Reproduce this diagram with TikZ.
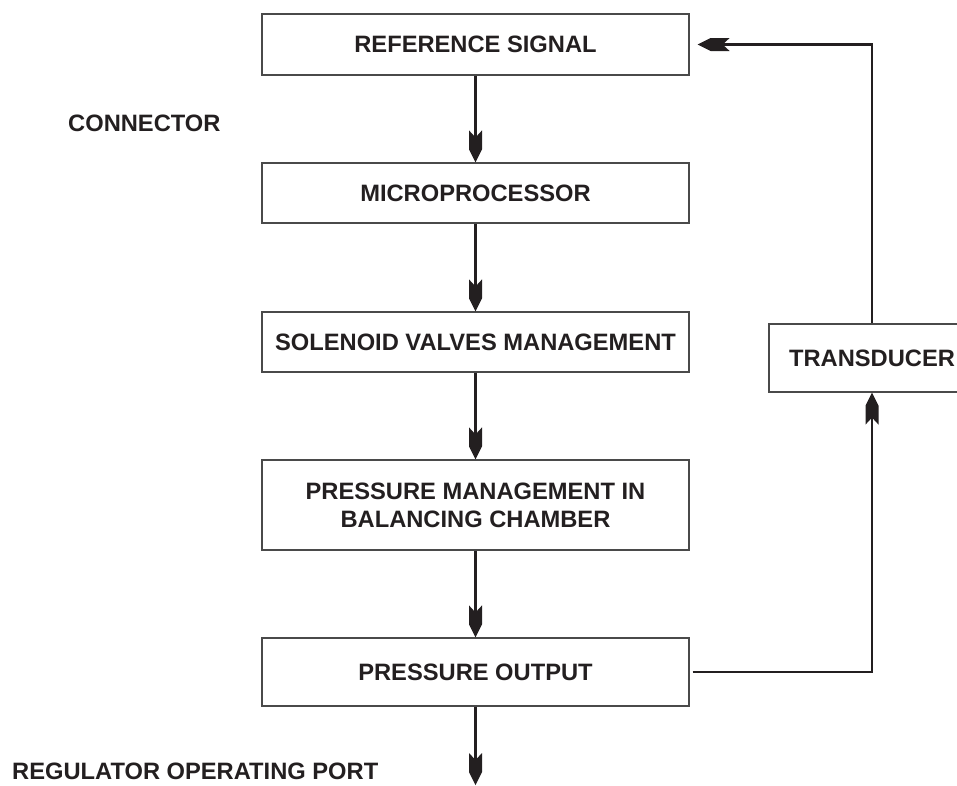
\documentclass[tikz,border=0pt]{standalone}
\usepackage{fontspec}
\setmainfont{Liberation Sans}
\definecolor{ink}{HTML}{231F20}
\definecolor{edge}{HTML}{4A4A4A}
\pgfdeclarearrow{
  name = Pent,
  setup code = {
    \pgfarrowssettipend{0pt}
    \pgfarrowssetlineend{-20pt}
    \pgfarrowshullpoint{0pt}{0pt}
    \pgfarrowshullpoint{-32pt}{6.5pt}
    \pgfarrowshullpoint{-32pt}{-6.5pt}
  },
  drawing code = {
    \pgfpathmoveto{\pgfpointorigin}
    \pgfpathlineto{\pgfpoint{-13pt}{6.5pt}}
    \pgfpathlineto{\pgfpoint{-32pt}{6.5pt}}
    \pgfpathlineto{\pgfpoint{-25pt}{0pt}}
    \pgfpathlineto{\pgfpoint{-32pt}{-6.5pt}}
    \pgfpathlineto{\pgfpoint{-13pt}{-6.5pt}}
    \pgfpathclose
    \pgfusepathqfill
  }
}
\tikzset{
  txt/.style={font=\fontsize{23.7}{28}\selectfont\bfseries, text=ink},
  box/.style={txt, draw=edge, line width=1.2pt, rectangle, inner sep=0pt,
    minimum width=427pt, align=center},
  conn/.style={draw=ink, line width=2.7pt, arrows={-Pent}},
  lbl/.style={txt, inner sep=0pt, anchor=west}
}
\begin{document}
\begin{tikzpicture}[x=1pt,y=-1pt]
\useasboundingbox (0,0) rectangle (957,785);
\node[box, minimum height=61pt] (b1) at (475.5,44.5) {REFERENCE SIGNAL};
\node[box, minimum height=60pt] (b2) at (475.5,193) {MICROPROCESSOR};
\node[box, minimum height=60pt] (b3) at (475.5,342) {SOLENOID VALVES MANAGEMENT};
\node[box, minimum height=90pt] (b4) at (475.5,505) {PRESSURE MANAGEMENT IN\\BALANCING CHAMBER};
\node[box, minimum height=68pt] (b5) at (475.5,672) {PRESSURE OUTPUT};
\node[box, minimum height=68pt, minimum width=206pt] (td) at (872,358) {TRANSDUCER};
\node[lbl] (cn) at (68,123) {CONNECTOR};
\node[lbl] (rp) at (12,771) {REGULATOR OPERATING PORT};
\coordinate (out) at (475.5,785);
\draw[conn] (b1.south) -- (b2.north);
\draw[conn] (b2.south) -- (b3.north);
\draw[conn] (b3.south) -- (b4.north);
\draw[conn] (b4.south) -- (b5.north);
\draw[conn] (b5.south) -- (out);
\draw[conn, shorten <=3pt] (b5.east) -| (td.south);
\draw[conn, shorten >=8pt] (td.north) |- (b1.east);
\end{tikzpicture}
\end{document}
